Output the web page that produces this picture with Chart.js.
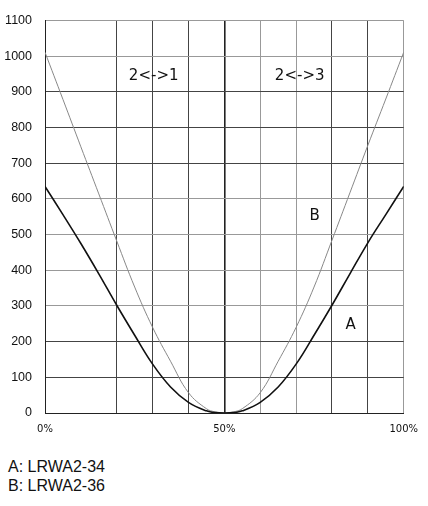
<!DOCTYPE html>
<html>
<head>
<meta charset="utf-8">
<script src="https://cdn.jsdelivr.net/npm/chart.js@4"></script>
<style>
  body { margin: 0; background: #fff; }
  #wrap { position: relative; width: 428px; height: 506px; }
  #box { position: absolute; left: 0; top: 0; width: 428px; height: 445px; }
  #leyenda {
    position: absolute; left: 8px; top: 457px;
    font: 16px "Liberation Sans", Arial, sans-serif; line-height: 19px; color: #111;
  }
</style>
</head>
<body>
<div id="wrap">
  <div id="box"><canvas id="curvas"></canvas></div>
  <div id="leyenda">
    <div>A: LRWA2-34</div>
    <div>B: LRWA2-36</div>
  </div>
</div>
<script>
// posicion en % (eje x)
var posiciones = [0, 5, 10, 15, 20, 25, 30, 35, 40, 45, 47.5, 50, 52.5, 55, 60, 65, 70, 75, 80, 85, 90, 95, 100];
// curva A: LRWA2-34
var valoresA = [635, 556, 475, 390, 302, 218, 137, 73, 30, 6, 1, 0, 1, 6, 30, 73, 137, 218, 302, 390, 477, 556, 635];
// curva B: LRWA2-36
var valoresB = [1011, 879, 746, 614, 482, 353, 240, 145, 57, 12, 3, 0, 3, 12, 57, 145, 240, 353, 484, 617, 750, 880, 1011];
var ticksX = [0, 50, 100];

// etiquetas dentro del grafico (x en %, y en valor)
var etiquetas = [
    { texto: '2<->1', x: 30.3, y: 945 },
    { texto: '2<->3', x: 71, y: 945 },
    { texto: 'B', x: 75.2, y: 551 },
    { texto: 'A', x: 85.2, y: 247 }
];

function puntos(vals) {
    return vals.map(function (v, i) { return { x: posiciones[i], y: v }; });
}

// dibuja las etiquetas usando las escalas
var pluginEtiquetas = {
    id: 'etiquetas',
    afterDatasetsDraw: function (chart) {
        var ctx = chart.ctx;
        var sx = chart.scales.x, sy = chart.scales.y;
        ctx.save();
        ctx.fillStyle = '#111';
        ctx.font = '15px "DejaVu Sans", sans-serif';
        ctx.textAlign = 'center';
        ctx.textBaseline = 'middle';
        etiquetas.forEach(function (e) {
            ctx.fillText(e.texto, sx.getPixelForValue(e.x), sy.getPixelForValue(e.y));
        });
        ctx.restore();
    }
};

// lineas de la rejilla: unas mas oscuras que otras, como en el original
var claroY = [1100, 1000, 600, 500, 400, 300];
var claroX = [60, 70, 100];

new Chart(document.getElementById('curvas'), {
    type: 'line',
    data: {
        datasets: [{
            label: 'A',
            data: puntos(valoresA),
            borderColor: '#111',
            borderWidth: 1.6,
            pointRadius: 0,
            tension: 0.4
        }, {
            label: 'B',
            data: puntos(valoresB),
            borderColor: '#888',
            borderWidth: 1,
            pointRadius: 0,
            tension: 0.4
        }]
    },
    options: {
        responsive: true,
        maintainAspectRatio: false,
        animation: false,
        layout: { padding: { top: 18, right: 24, left: 0, bottom: 0 } },
        plugins: { legend: { display: false }, tooltip: { enabled: false } },
        scales: {
            x: {
                type: 'linear',
                min: 0,
                max: 100,
                afterBuildTicks: function (scale) {
                    var t = [];
                    for (var v = 0; v <= 100; v += 10) t.push({ value: v });
                    scale.ticks = t;
                },
                afterFit: function (scale) { scale.height = 32; },
                grid: {
                    drawTicks: false,
                    color: function (c) {
                        var v = c.tick ? c.tick.value : 0;
                        if (v === 10) return 'rgba(0,0,0,0)';
                        if (v === 50) return '#222';
                        return claroX.indexOf(v) >= 0 ? '#999' : '#444';
                    },
                    lineWidth: function (c) {
                        return (c.tick && c.tick.value === 50) ? 1.6 : 1;
                    }
                },
                border: { color: '#222' },
                ticks: {
                    padding: 10,
                    autoSkip: false,
                    maxRotation: 0,
                    color: '#111',
                    font: { family: '"DejaVu Sans", sans-serif', size: 10 },
                    callback: function (v) { return ticksX.indexOf(v) >= 0 ? v + '%' : ''; }
                }
            },
            y: {
                min: 0,
                max: 1100,
                afterFit: function (scale) { scale.width = 45; },
                grid: {
                    drawTicks: false,
                    color: function (c) {
                        var v = c.tick ? c.tick.value : 0;
                        return claroY.indexOf(v) >= 0 ? '#999' : '#444';
                    }
                },
                border: { color: '#222' },
                ticks: {
                    stepSize: 100,
                    padding: 13,
                    color: '#111',
                    font: { family: '"Liberation Sans", Arial, sans-serif', size: 12.5 },
                    callback: function (v) { return String(v); }
                }
            }
        }
    },
    plugins: [pluginEtiquetas]
});
</script>
</body>
</html>
